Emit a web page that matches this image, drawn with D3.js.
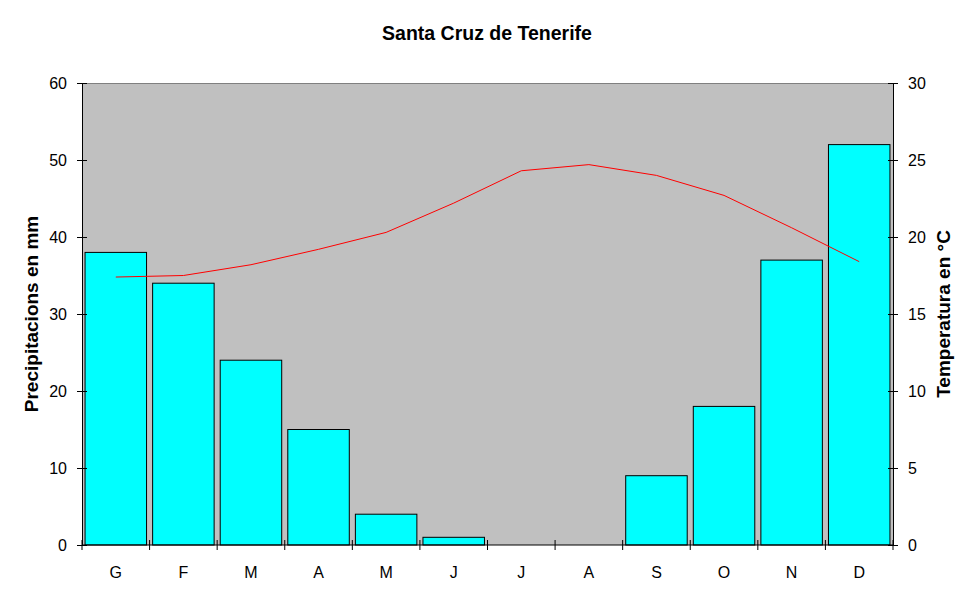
<!DOCTYPE html>
<html>
<head>
<meta charset="utf-8">
<script src="https://cdn.jsdelivr.net/npm/d3@7"></script>
<style>
  body { margin: 0; background: #fff; }
  text { font-family: Arial, "Liberation Sans", sans-serif; }
</style>
</head>
<body>
<svg width="974" height="604"></svg>
<script>
// chart data
var months = ["G", "F", "M", "A", "M", "J", "J", "A", "S", "O", "N", "D"];
var precipitation = [38, 34, 24, 15, 4, 1, 0, 0, 9, 18, 37, 52];
var temperature = [17.4, 17.5, 18.2, 19.2, 20.3, 22.2, 24.3, 24.7, 24.0, 22.7, 20.6, 18.4];
var precipTicks = [0, 10, 20, 30, 40, 50, 60];
var tempTicks = [0, 5, 10, 15, 20, 25, 30];

var svg = d3.select("svg");
var plotLeft = 82, plotRight = 893, plotTop = 83, plotBottom = 545;
var width = plotRight - plotLeft, height = plotBottom - plotTop;

var keys = months.map(function (d, i) { return i; });

var xBand = d3.scaleBand().domain(keys).range([0, width]).paddingInner(0.09).paddingOuter(0.045);
var xCat = d3.scaleBand().domain(keys).range([0, width]);
var yP = d3.scaleLinear().domain([0, 60]).range([height, 0]);
var yT = d3.scaleLinear().domain([0, 30]).range([height, 0]);

var g = svg.append("g").attr("transform", "translate(" + plotLeft + "," + plotTop + ")");

// plot area
g.append("rect")
  .attr("width", width).attr("height", height)
  .style("fill", "#c0c0c0");
g.append("line")
  .attr("x1", 0).attr("x2", width).attr("y1", 0.5).attr("y2", 0.5)
  .style("stroke", "#808080");

// bars
g.selectAll(".bar")
  .data(precipitation)
  .enter()
  .append("rect")
  .attr("class", "bar")
  .attr("x", function (d, i) { return xBand(i); })
  .attr("y", function (d) { return yP(d); })
  .attr("width", xBand.bandwidth())
  .attr("height", function (d) { return height - yP(d); })
  .style("fill", "#00ffff")
  .style("stroke", "#000")
  .style("stroke-width", 1);

// temperature line
var line = d3.line()
  .x(function (d, i) { return xCat(i) + xCat.bandwidth() / 2; })
  .y(function (d) { return yT(d); });

g.append("path")
  .datum(temperature)
  .attr("d", line)
  .style("fill", "none")
  .style("stroke", "#ff0000")
  .style("stroke-width", 1);

// left axis
var axL = g.append("g")
  .call(d3.axisLeft(yP).tickValues(precipTicks).tickSizeInner(5).tickSizeOuter(0).tickPadding(10));
axL.selectAll(".tick line").attr("x2", 5).attr("x1", -5);

// right axis
var axR = g.append("g")
  .attr("transform", "translate(" + width + ",0)")
  .call(d3.axisRight(yT).tickValues(tempTicks).tickSizeInner(5).tickSizeOuter(0).tickPadding(10));
axR.selectAll(".tick line").attr("x1", -5).attr("x2", 5);

// bottom axis: ticks at category boundaries
var axB = g.append("g")
  .attr("transform", "translate(0," + height + ")")
  .call(d3.axisBottom(xCat).tickFormat(function (i) { return months[i]; }).tickSize(0).tickPadding(22));
axB.select(".domain").remove();
axB.append("line").attr("x1", 0).attr("x2", width).style("stroke", "#000");
axB.selectAll(".bound")
  .data(d3.range(months.length + 1))
  .enter()
  .append("line")
  .attr("class", "bound")
  .attr("x1", function (i) { return i * xCat.step(); })
  .attr("x2", function (i) { return i * xCat.step(); })
  .attr("y1", -5).attr("y2", 5)
  .style("stroke", "#000");

[axL, axR, axB].forEach(function (a) {
  a.selectAll("text").style("font-size", "16px").style("fill", "#000")
    .style("font-family", "Arial, 'Liberation Sans', sans-serif");
  a.selectAll(".domain").style("stroke", "#000");
});

// title
svg.append("text")
  .attr("x", 487).attr("y", 40)
  .attr("text-anchor", "middle")
  .style("font-size", "19.5px").style("font-weight", "bold")
  .text("Santa Cruz de Tenerife");

// axis titles
svg.append("text")
  .attr("text-anchor", "middle")
  .attr("transform", "translate(38," + 314 + ")rotate(-90)")
  .style("font-size", "19px").style("font-weight", "bold")
  .text("Precipitacions en mm");

svg.append("text")
  .attr("text-anchor", "middle")
  .attr("transform", "translate(950," + 314 + ")rotate(-90)")
  .style("font-size", "19px").style("font-weight", "bold")
  .text("Temperatura en °C");
</script>
</body>
</html>
